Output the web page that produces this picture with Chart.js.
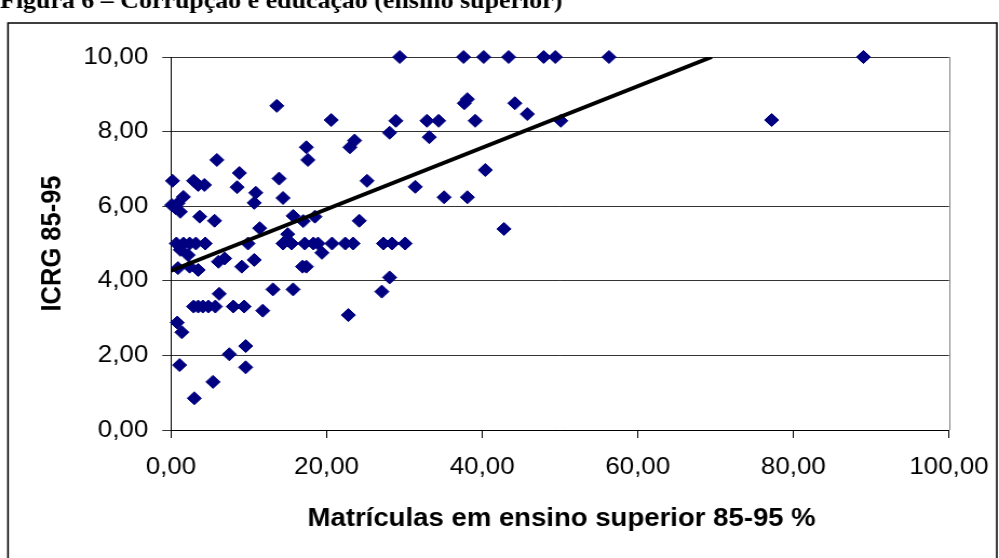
<!DOCTYPE html>
<html>
<head>
<meta charset="utf-8">
<script src="https://cdn.jsdelivr.net/npm/chart.js@4.4.1/dist/chart.umd.min.js"></script>
<style>
  html, body { margin: 0; padding: 0; background: #fff; overflow: hidden; }
  #grafico { display: block; }
</style>
</head>
<body>
<canvas id="grafico" width="925" height="558" style="width:999px;height:558px"></canvas>
<script>
// matrículas em ensino superior 85-95 (%) e ICRG 85-95, um par por país
var matriculas = [
  29.4, 37.6, 40.2, 43.4, 47.9, 49.4, 56.3, 89.0,
  13.6, 20.6, 23.0, 23.6, 17.4, 17.6, 5.9,
  37.7, 38.1, 44.2, 45.8, 50.1, 28.9, 28.1, 32.9, 34.4, 33.2, 39.1, 77.2,
  25.2, 31.4, 35.1, 38.1, 40.4, 42.8,
  0.2, 2.9, 3.5, 4.3, 8.8, 8.5, 13.9, 14.4, 10.9, 10.7, 1.6, 0.1, 0.9, 1.2, 0.6,
  3.7, 5.6, 11.4, 15.7, 17.0, 18.5, 24.2, 15.0,
  0.7, 1.6, 2.4, 3.2, 4.4, 9.9, 14.4, 15.5, 17.2, 18.3, 18.9, 20.7, 22.4, 23.4, 27.3, 28.4, 30.1,
  1.2, 2.2, 19.4, 6.1, 6.9, 10.7, 9.1, 16.9, 17.4, 0.9, 2.4, 3.5, 28.1, 27.1,
  6.2, 13.1, 15.7,
  2.9, 3.5, 4.1, 4.8, 5.7, 8.0, 9.4,
  11.8, 22.8, 0.8, 1.4, 9.6, 7.5, 1.1, 9.6, 5.4, 3.0
];
var icrg = [
  10, 10, 10, 10, 10, 10, 10, 10,
  8.69, 8.31, 7.58, 7.76, 7.58, 7.24, 7.24,
  8.76, 8.87, 8.76, 8.47, 8.29, 8.29, 7.97, 8.29, 8.29, 7.85, 8.29, 8.31,
  6.68, 6.52, 6.24, 6.24, 6.97, 5.39,
  6.68, 6.68, 6.57, 6.57, 6.89, 6.51, 6.74, 6.22, 6.36, 6.09, 6.25, 6.03, 6.08, 5.85, 5.95,
  5.72, 5.61, 5.41, 5.74, 5.60, 5.72, 5.61, 5.25,
  5.0, 5.0, 5.0, 5.0, 5.0, 5.0, 5.0, 5.0, 5.0, 5.0, 5.0, 5.0, 5.0, 5.0, 5.0, 5.0, 5.0,
  4.83, 4.69, 4.75, 4.51, 4.60, 4.56, 4.38, 4.38, 4.38, 4.34, 4.38, 4.29, 4.09, 3.71,
  3.65, 3.77, 3.77,
  3.31, 3.31, 3.31, 3.31, 3.31, 3.31, 3.31,
  3.20, 3.08, 2.88, 2.62, 2.25, 2.03, 1.74, 1.68, 1.29, 0.85
];

// linha de tendência (extremos)
var tendenciaX = [0, 69.5];
var tendenciaY = [4.27, 10];

var xTickLabels = ['0,00', '20,00', '40,00', '60,00', '80,00', '100,00'];
var yTickLabels = ['0,00', '2,00', '4,00', '6,00', '8,00', '10,00'];

var tituloFigura = 'Figura 6 – Corrupção e educação (ensino superior)';
var tituloX = 'Matrículas em ensino superior 85-95 %';
var tituloY = 'ICRG 85-95';

var pontos = matriculas.map(function (m, i) { return { x: m, y: icrg[i] }; });
var tendencia = tendenciaX.map(function (t, i) { return { x: t, y: tendenciaY[i] }; });

var fonte = "'Liberation Sans', Arial, sans-serif";

var moldura = {
  id: 'moldura',
  beforeDraw: function (chart) {
    var ctx = chart.ctx;
    ctx.save();
    ctx.fillStyle = '#fff';
    ctx.fillRect(0, 0, chart.width, chart.height);
    ctx.strokeStyle = '#000';
    ctx.lineWidth = 1.5;
    ctx.strokeRect(7.4, 23, 915.6, 560);
    ctx.fillStyle = '#000';
    ctx.font = "bold 24px 'Liberation Serif', 'Times New Roman', serif";
    ctx.textBaseline = 'alphabetic';
    ctx.fillText(tituloFigura, 0, 8);
    ctx.restore();
  },
  beforeDatasetsDraw: function (chart) {
    var a = chart.chartArea, ctx = chart.ctx;
    ctx.save();
    ctx.strokeStyle = '#808080';
    ctx.lineWidth = 1;
    ctx.beginPath();
    ctx.moveTo(Math.round(a.right) + 0.5, a.top);
    ctx.lineTo(Math.round(a.right) + 0.5, a.bottom);
    ctx.stroke();
    ctx.restore();
  },
  afterDraw: function (chart) {
    var a = chart.chartArea, ctx = chart.ctx;
    ctx.save();
    ctx.fillStyle = '#000';
    ctx.font = 'bold 25.5px ' + fonte;
    ctx.textAlign = 'center';
    ctx.textBaseline = 'middle';
    ctx.fillText(tituloX, 520, 519);
    ctx.translate(48.6, (a.top + a.bottom) / 2);
    ctx.rotate(-Math.PI / 2);
    ctx.fillText(tituloY, 0, 0);
    ctx.restore();
  }
};

new Chart(document.getElementById('grafico').getContext('2d'), {
  type: 'scatter',
  data: {
    datasets: [{
      label: 'ICRG',
      data: pontos,
      pointStyle: 'rectRot',
      pointRadius: 6.5,
      pointBorderWidth: 1,
      backgroundColor: '#000080',
      borderColor: '#000080',
      clip: false,
      order: 1
    }, {
      label: 'Tendência',
      data: tendencia,
      showLine: true,
      pointRadius: 0,
      borderColor: '#000',
      borderWidth: 4,
      order: 0
    }]
  },
  options: {
    responsive: false,
    animation: false,
    devicePixelRatio: 1,
    layout: { padding: { top: 57, right: 46.3, bottom: 0, left: 0 } },
    plugins: { legend: { display: false }, tooltip: { enabled: false } },
    scales: {
      x: {
        type: 'linear', min: 0, max: 100,
        ticks: {
          stepSize: 20, padding: 15, color: '#000',
          font: { family: fonte, size: 24 },
          maxRotation: 0,
          callback: function (v, i) { return xTickLabels[i]; }
        },
        grid: { drawOnChartArea: false, tickLength: 8, color: '#000' },
        border: { color: '#000', width: 1 },
        afterFit: function (s) { s.height = 128; s.paddingLeft = 0; s.paddingRight = 0; }
      },
      y: {
        min: 0, max: 10,
        ticks: {
          stepSize: 2, padding: 13, color: '#000',
          font: { family: fonte, size: 24 },
          callback: function (v, i) { return yTickLabels[i]; }
        },
        grid: { color: '#333', tickLength: 8 },
        border: { color: '#000', width: 1 },
        afterFit: function (s) { s.width = 158.3; s.paddingTop = 0; s.paddingBottom = 0; }
      }
    }
  },
  plugins: [moldura]
});
</script>
</body>
</html>
